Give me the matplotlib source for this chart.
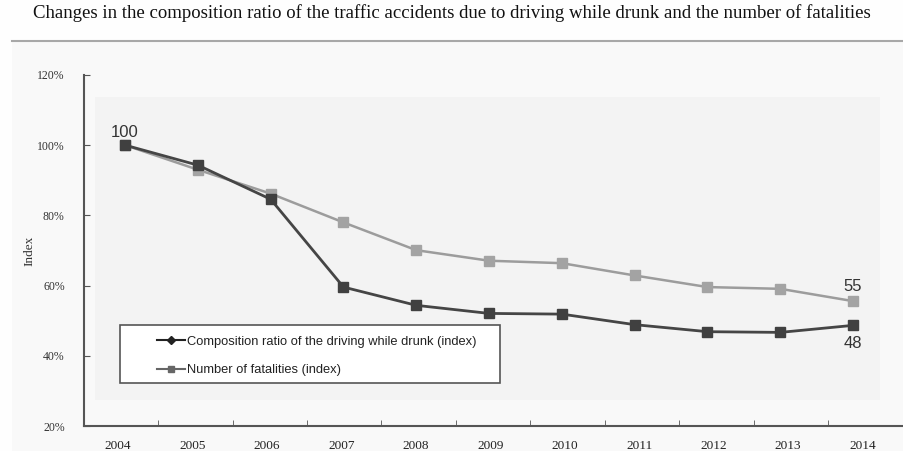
import matplotlib.pyplot as plt
from matplotlib.patches import Rectangle
from matplotlib.lines import Line2D
from matplotlib import font_manager
import numpy as np

years = ['2004', '2005', '2006', '2007', '2008', '2009', '2010', '2011', '2012', '2013', '2014']
drunk_ratio = [100, 94.3, 84.6, 59.6, 54.4, 52.1, 51.9, 48.9, 46.9, 46.7, 48.7]
fatalities = [100, 93.0, 86.2, 78.0, 70.1, 67.1, 66.4, 62.9, 59.6, 59.1, 55.6]
y_ticks = [20, 40, 60, 80, 100, 120]

serif = ['Liberation Serif', 'DejaVu Serif']
sans = ['Liberation Sans', 'DejaVu Sans']
installed = {f.name for f in font_manager.fontManager.ttflist}
if 'Liberation Sans Narrow' in installed:
    legend_font, legend_size = ['Liberation Sans Narrow', 'DejaVu Sans'], 11
else:
    legend_font, legend_size = sans, 9.3
dark = '#454545'
light = '#9c9c9c'

fig = plt.figure(figsize=(9.04, 4.51), dpi=100, facecolor='#fefefe')

# title band and separator line
fig.text(0.5, 0.972, 'Changes in the composition ratio of the traffic accidents due to driving while drunk and the number of fatalities',
         ha='center', va='center', fontsize=13.5, family=serif, color='#111111')
fig.add_artist(Line2D([0.013, 1.0], [0.909, 0.909], transform=fig.transFigure, color='#a8a8a8', lw=1.5))
fig.add_artist(Rectangle((0.013, 0.0), 0.987, 0.906, transform=fig.transFigure,
                         facecolor='#f9f9f9', edgecolor='none', zorder=-1))

ax = fig.add_axes([0.093, 0.055, 0.906, 0.779])
ax.set_facecolor('none')
x = np.arange(len(years))

# faint inner plot-area box
ax.add_patch(Rectangle((-0.41, 27.5), 10.78, 86.2, facecolor='#f3f3f3', edgecolor='none', zorder=0))

ax.plot(x, fatalities, color=light, lw=1.8, marker='s', ms=6.5, mfc='#a3a3a3', mec='#a3a3a3', zorder=3)
ax.plot(x, drunk_ratio, color=dark, lw=2.0, marker='s', ms=6.5, mfc='#404040', mec='#404040', zorder=4)

ax.text(x[0], drunk_ratio[0] + 1.4, '100', ha='center', va='bottom', fontsize=12, family=sans, color='#333333')
ax.text(x[-1], fatalities[-1] + 2.0, '55', ha='center', va='bottom', fontsize=12, family=sans, color='#333333')
ax.text(x[-1], drunk_ratio[-1] - 3.0, '48', ha='center', va='top', fontsize=12, family=sans, color='#333333')

# category axis: slightly wider tick spacing than the plotted points (as in the scan)
step = 1.023
ax.set_xlim(-0.563, 10.687)
ax.set_ylim(20, 120)
ax.set_yticks(y_ticks)
ax.set_yticklabels([f'{v}%' for v in y_ticks], family=serif, fontsize=8.5, color='#333333')
ax.set_xticks(-0.1 + step * x)
ax.set_xticklabels(years, family=serif, fontsize=9.5, color='#222222')
ax.set_xticks(0.453 + step * np.arange(len(years)), minor=True)
ax.tick_params(axis='x', which='major', length=0, pad=10)
ax.tick_params(axis='x', which='minor', direction='in', length=4, color='#555555')
ax.tick_params(axis='y', direction='in', length=4, color='#555555', pad=14)
ax.set_ylabel('Index', family=serif, fontsize=9.5, color='#333333', labelpad=1)

for s in ['top', 'right']:
    ax.spines[s].set_visible(False)
for s in ['left', 'bottom']:
    ax.spines[s].set_color('#555555')
    ax.spines[s].set_linewidth(1.5)

# legend frame drawn separately to get the wide left padding
ax.add_patch(Rectangle((0.044, 0.1225), 0.464, 0.165, transform=ax.transAxes,
                       facecolor='white', edgecolor='#555555', lw=1.2, zorder=5))
handles = [
    Line2D([], [], color='#222222', lw=1.5, marker='D', ms=4, mfc='#222222', mec='#222222'),
    Line2D([], [], color='#666666', lw=1.5, marker='s', ms=5, mfc='#666666', mec='#666666'),
]
leg = ax.legend(handles, ['Composition ratio of the driving while drunk (index)', 'Number of fatalities (index)'],
                loc='center left', bbox_to_anchor=(0.089, 0.2), frameon=False,
                prop={'family': legend_font, 'size': legend_size}, handlelength=2.2, handletextpad=0.1,
                borderpad=0, labelspacing=1.25, borderaxespad=0)
leg.set_zorder(6)
for t in leg.get_texts():
    t.set_color('#222222')

fig.savefig('out.png', dpi=100, facecolor=fig.get_facecolor())
